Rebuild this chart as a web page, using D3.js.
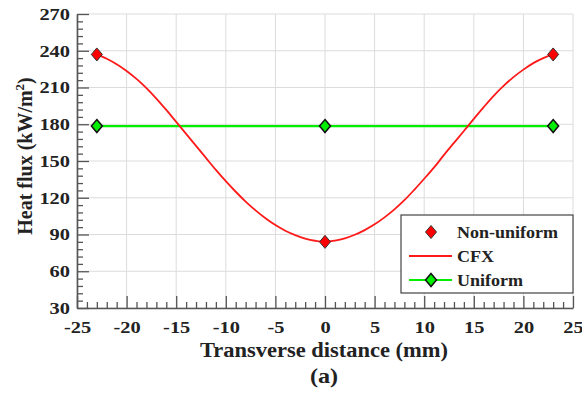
<!DOCTYPE html>
<html><head><meta charset="utf-8">
<script src="https://cdn.jsdelivr.net/npm/d3@7"></script>
<style>
html,body{margin:0;padding:0;background:#fff;}
svg{display:block;}
</style></head>
<body><svg id="c" width="582" height="394" font-family="'Liberation Serif','Times New Roman',serif" font-weight="bold"></svg>
<script>
// ---- data ----
const cfxX = [-23,-22,-21,-20,-19,-18,-17,-16,-15,-14,-13,-12,-11,-10,-9,-8,-7,-6,-5,-4,-3,-2,-1,0,1,2,3,4,5,6,7,8,9,10,11,12,13,14,15,16,17,18,19,20,21,22,23];
const cfxY = [237,233.5,229,223.5,217,209.5,201,191.7,181.9,172.1,162.3,152.5,142.7,133.5,124.9,116.9,109.7,103.3,97.7,93.1,89.5,86.7,84.9,84,85,86.9,89.8,93.6,98.3,104,110.5,118,126.5,135.5,144.8,155,164.8,174.5,184.4,194,203.2,211.3,218.5,224.6,229.9,234,237];
const nonUniformX = [-23, 0, 23];
const nonUniformY = [237, 84, 237];
const uniformX = [-23, 0, 23];
const uniformY = [178.5, 178.5, 178.5];
const xTicks = [-25,-20,-15,-10,-5,0,5,10,15,20,25];
const yTicks = [30,60,90,120,150,180,210,240,270];
const legendLabels = ["Non-uniform", "CFX", "Uniform"];

const FONT = "'Liberation Serif','Times New Roman',serif";
const svg = d3.select("#c");
const L = 77, R = 573, T = 14, B = 308;
const x = d3.scaleLinear().domain([-25,25]).range([L,R]);
const y = d3.scaleLinear().domain([30,270]).range([B,T]);
const axisCol = "#555";
const txtCol = "#222";
const stretch = (sel, k) => sel.each(function(){ this.setAttribute("textLength", this.getComputedTextLength()*k); this.setAttribute("lengthAdjust","spacingAndGlyphs"); });

// grid
const g = svg.append("g");
g.selectAll(".gx").data(xTicks).join("line")
  .attr("x1", d=>x(d)).attr("x2", d=>x(d)).attr("y1", T).attr("y2", B)
  .attr("stroke", "#dcdcdc").attr("stroke-width", 1);
g.selectAll(".gy").data(yTicks).join("line")
  .attr("x1", L).attr("x2", R).attr("y1", d=>y(d)).attr("y2", d=>y(d))
  .attr("stroke", "#dcdcdc").attr("stroke-width", 1);

// minor ticks
const xMinor = d3.range(-25, 25.01, 1).filter(v => v % 5 !== 0);
const yMinor = d3.range(30, 270.01, 6).filter(v => v % 30 !== 0);
svg.append("g").attr("transform", `translate(0,${B})`)
  .call(d3.axisBottom(x).tickValues(xMinor).tickSize(-6).tickFormat(""))
  .call(s => { s.select(".domain").remove(); s.selectAll("line").attr("stroke", axisCol).attr("stroke-width", 1.3); });
svg.append("g").attr("transform", `translate(${L},0)`)
  .call(d3.axisLeft(y).tickValues(yMinor).tickSize(-6).tickFormat(""))
  .call(s => { s.select(".domain").remove(); s.selectAll("line").attr("stroke", axisCol).attr("stroke-width", 1.3); });

// major axes
const xa = svg.append("g").attr("transform", `translate(0,${B})`)
  .call(d3.axisBottom(x).tickValues(xTicks).tickSize(-12).tickPadding(13).tickSizeOuter(0).tickFormat(d=>String(d)));
const ya = svg.append("g").attr("transform", `translate(${L},0)`)
  .call(d3.axisLeft(y).tickValues(yTicks).tickSize(-12).tickPadding(7).tickSizeOuter(0).tickFormat(d=>String(d)));
[xa, ya].forEach(a => {
  a.attr("font-family", FONT).attr("font-size", 17).attr("font-weight", "bold");
  a.select(".domain").attr("stroke", axisCol).attr("stroke-width", 1.6);
  a.selectAll(".tick line").attr("stroke", axisCol).attr("stroke-width", 1.3);
  a.selectAll("text").attr("fill", txtCol).call(stretch, 1.2);
});

// uniform line
svg.append("path").datum(uniformX.map((v,i)=>[v, uniformY[i]]))
  .attr("d", d3.line().x(d=>x(d[0])).y(d=>y(d[1])))
  .attr("fill","none").attr("stroke","#00ee00").attr("stroke-width",2.2);

// CFX curve
svg.append("path").datum(cfxX.map((v,i)=>[v, cfxY[i]]))
  .attr("d", d3.line().curve(d3.curveCatmullRom).x(d=>x(d[0])).y(d=>y(d[1])))
  .attr("fill","none").attr("stroke","#ff1a1a").attr("stroke-width",1.8);

const diamond = (cx, cy, w, h) => `M${cx},${cy-h}L${cx+w},${cy}L${cx},${cy+h}L${cx-w},${cy}Z`;
svg.selectAll(".um").data(uniformX.map((v,i)=>[v, uniformY[i]])).join("path")
  .attr("d", d=>diamond(x(d[0]), y(d[1]), 5.5, 6.5))
  .attr("fill","#00ee00").attr("stroke","#111").attr("stroke-width",1.5);
svg.selectAll(".nm").data(nonUniformX.map((v,i)=>[v, nonUniformY[i]])).join("path")
  .attr("d", d=>diamond(x(d[0]), y(d[1]), 5.5, 6.5))
  .attr("fill","#ff0000").attr("stroke","#333").attr("stroke-width",1);

// legend
const lg = svg.append("g");
lg.append("rect").attr("x",401).attr("y",215).attr("width",172).attr("height",78)
  .attr("fill","#fff").attr("stroke","#444").attr("stroke-width",1.2);
const rows = [232, 256, 280];
lg.append("path").attr("d", diamond(431, rows[0], 5.5, 6.5)).attr("fill","#ff0000").attr("stroke","#333").attr("stroke-width",1);
lg.append("line").attr("x1",409).attr("x2",452).attr("y1",rows[1]).attr("y2",rows[1]).attr("stroke","#ff1a1a").attr("stroke-width",1.8);
lg.append("line").attr("x1",409).attr("x2",452).attr("y1",rows[2]).attr("y2",rows[2]).attr("stroke","#00ee00").attr("stroke-width",2.2);
lg.append("path").attr("d", diamond(431, rows[2], 5.5, 6.5)).attr("fill","#00ee00").attr("stroke","#111").attr("stroke-width",1.5);
lg.selectAll("text.l").data(legendLabels).join("text")
  .attr("x",457).attr("y",(d,i)=>rows[i]).attr("dy","0.35em").attr("font-size",17).attr("fill",txtCol).text(d=>d)
  .call(stretch, 1.06);

// axis titles
svg.append("text").attr("x",324).attr("y",357).attr("text-anchor","middle").attr("font-size",20).attr("fill",txtCol)
  .text("Transverse distance (mm)").attr("textLength",248).attr("lengthAdjust","spacingAndGlyphs");
const yt = svg.append("text").attr("transform","translate(32,156) rotate(-90)").attr("text-anchor","middle").attr("font-size",20).attr("fill",txtCol);
yt.append("tspan").text("Heat flux (kW/m");
yt.append("tspan").attr("font-size",13).attr("dy",-8).text("2");
yt.append("tspan").attr("dy",8).text(")");
svg.append("text").attr("x",324).attr("y",383).attr("text-anchor","middle").attr("font-size",21).attr("fill",txtCol).text("(a)").call(stretch,1.15);
</script></body></html>
